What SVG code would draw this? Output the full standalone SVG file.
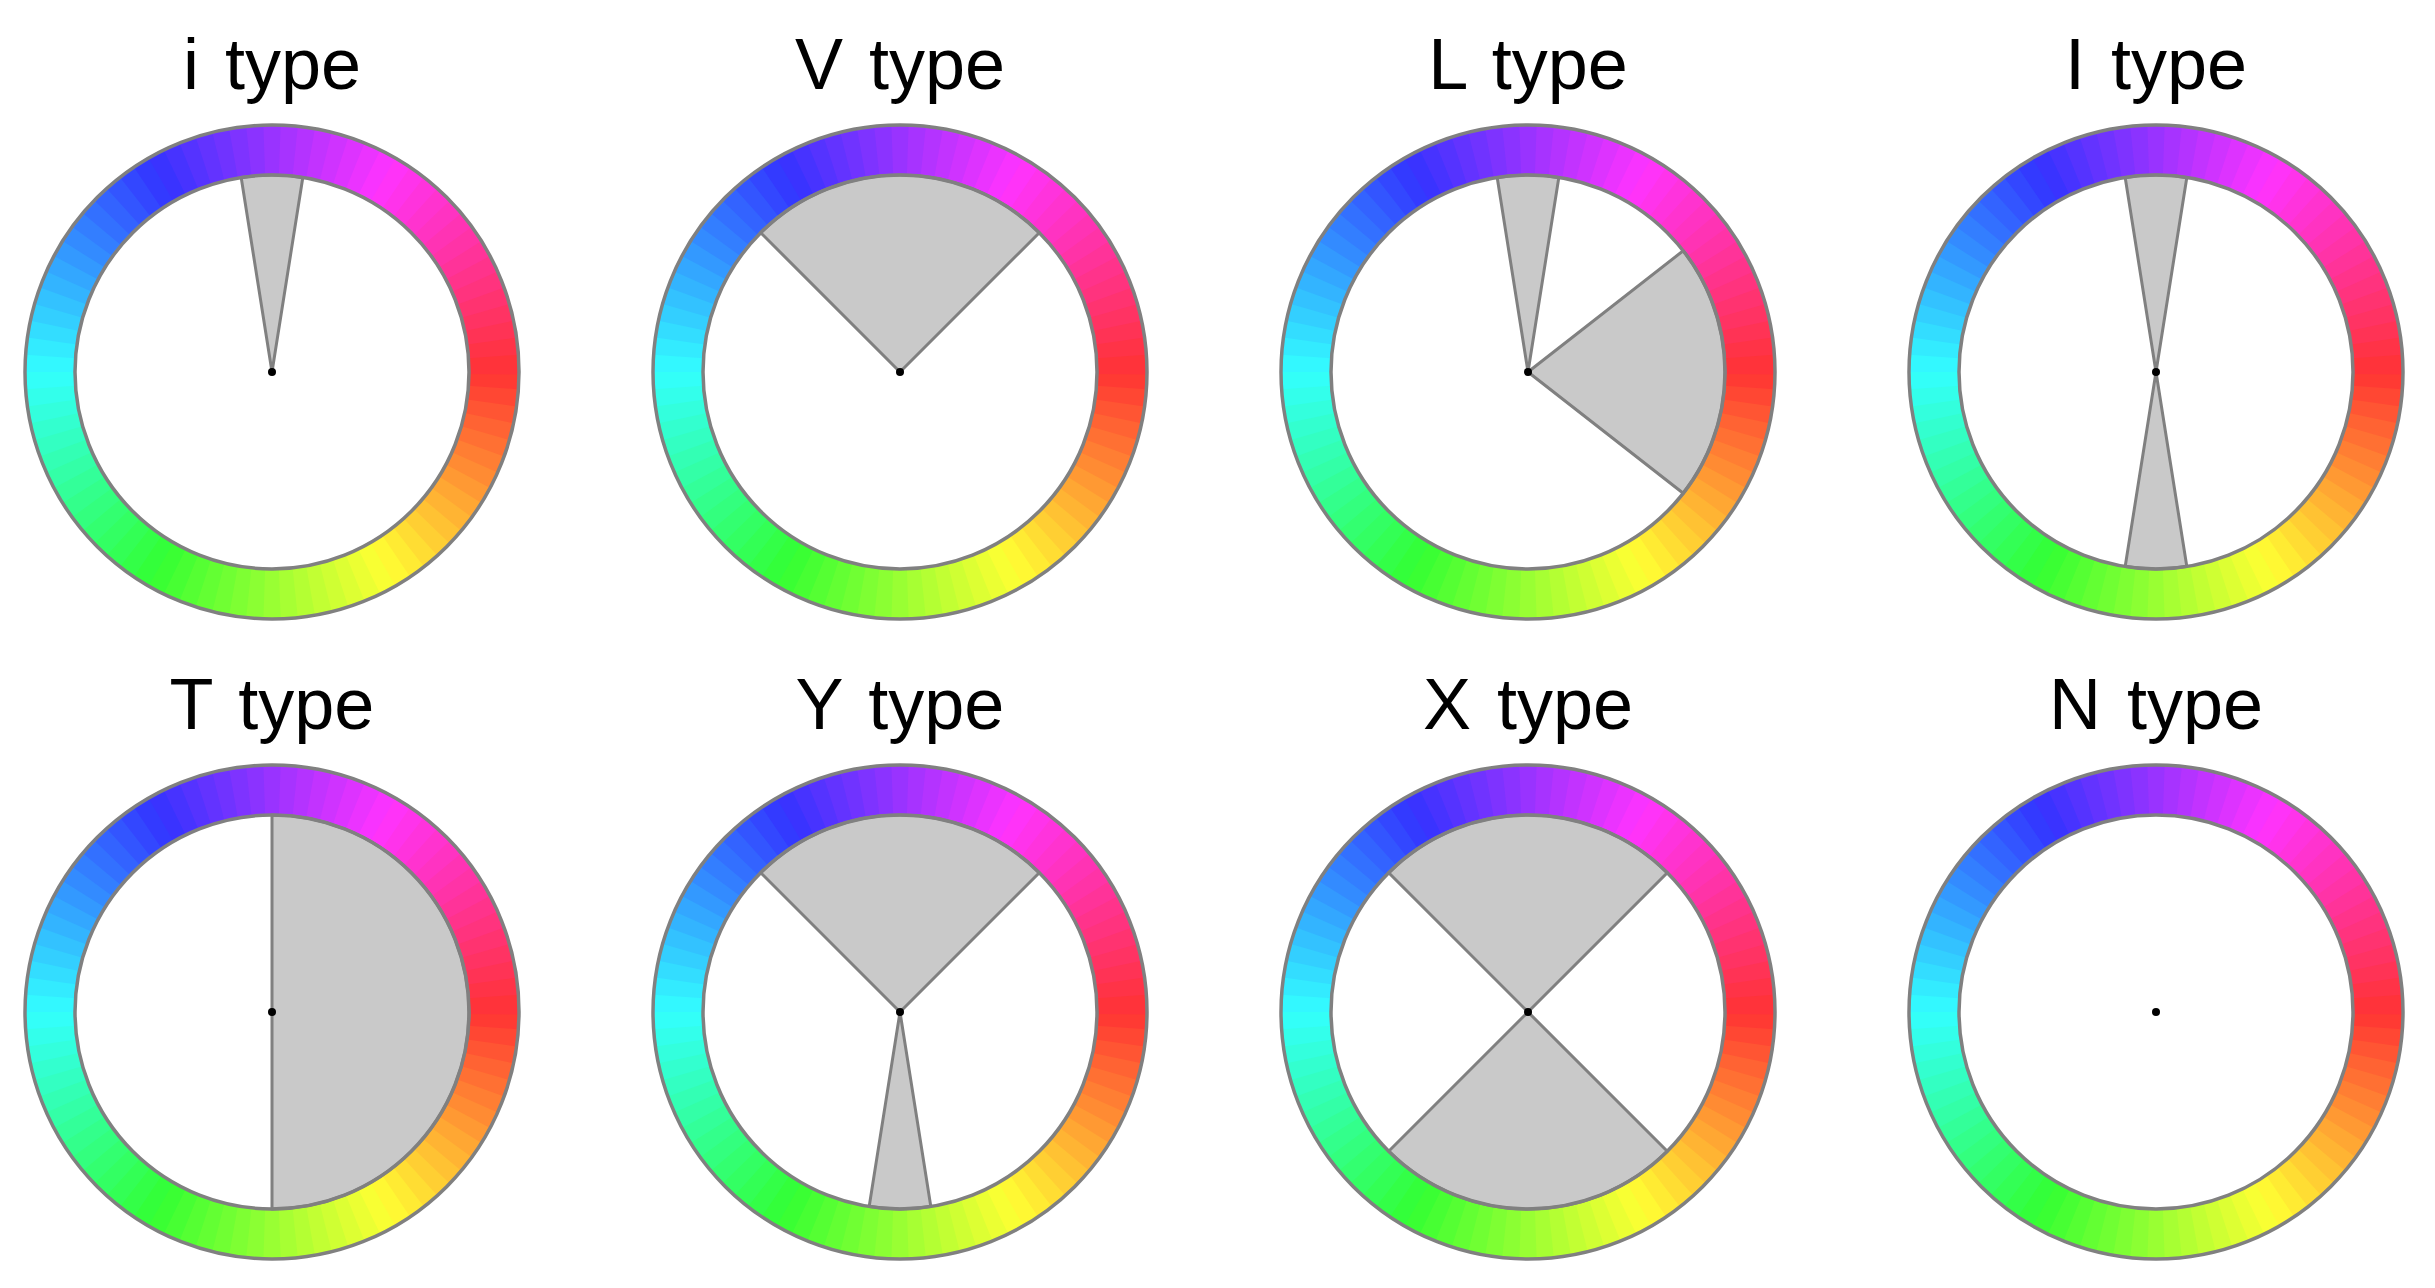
<svg xmlns="http://www.w3.org/2000/svg" xmlns:xlink="http://www.w3.org/1999/xlink" width="2435" height="1288" viewBox="0 0 2435 1288">
<style>
.title{font-family:"Liberation Sans",Arial,sans-serif;font-size:72px;fill:#000;text-anchor:middle;word-spacing:6px}
.sec{fill:#c9c9c9;stroke:#808080;stroke-width:3;stroke-linejoin:round}
.bd{fill:none;stroke:#808080;stroke-width:3.5}
.dot{fill:#000}
</style>
<defs>
<path id="seg" d="M247,0 A247,247 0 0 1 246.204,19.809 L196.365,15.799 A197,197 0 0 0 197,0 Z"/>
<g id="ring">
<use href="#seg" transform="rotate(0)" fill="hsl(2,100%,60%)"/>
<use href="#seg" transform="rotate(4)" fill="hsl(6,100%,60%)"/>
<use href="#seg" transform="rotate(8)" fill="hsl(10,100%,60%)"/>
<use href="#seg" transform="rotate(12)" fill="hsl(14,100%,60%)"/>
<use href="#seg" transform="rotate(16)" fill="hsl(18,100%,60%)"/>
<use href="#seg" transform="rotate(20)" fill="hsl(22,100%,60%)"/>
<use href="#seg" transform="rotate(24)" fill="hsl(26,100%,60%)"/>
<use href="#seg" transform="rotate(28)" fill="hsl(30,100%,60%)"/>
<use href="#seg" transform="rotate(32)" fill="hsl(34,100%,60%)"/>
<use href="#seg" transform="rotate(36)" fill="hsl(38,100%,60%)"/>
<use href="#seg" transform="rotate(40)" fill="hsl(42,100%,60%)"/>
<use href="#seg" transform="rotate(44)" fill="hsl(46,100%,60%)"/>
<use href="#seg" transform="rotate(48)" fill="hsl(50,100%,60%)"/>
<use href="#seg" transform="rotate(52)" fill="hsl(54,100%,60%)"/>
<use href="#seg" transform="rotate(56)" fill="hsl(58,100%,60%)"/>
<use href="#seg" transform="rotate(60)" fill="hsl(62,100%,60%)"/>
<use href="#seg" transform="rotate(64)" fill="hsl(66,100%,60%)"/>
<use href="#seg" transform="rotate(68)" fill="hsl(70,100%,60%)"/>
<use href="#seg" transform="rotate(72)" fill="hsl(74,100%,60%)"/>
<use href="#seg" transform="rotate(76)" fill="hsl(78,100%,60%)"/>
<use href="#seg" transform="rotate(80)" fill="hsl(82,100%,60%)"/>
<use href="#seg" transform="rotate(84)" fill="hsl(86,100%,60%)"/>
<use href="#seg" transform="rotate(88)" fill="hsl(90,100%,60%)"/>
<use href="#seg" transform="rotate(92)" fill="hsl(94,100%,60%)"/>
<use href="#seg" transform="rotate(96)" fill="hsl(98,100%,60%)"/>
<use href="#seg" transform="rotate(100)" fill="hsl(102,100%,60%)"/>
<use href="#seg" transform="rotate(104)" fill="hsl(106,100%,60%)"/>
<use href="#seg" transform="rotate(108)" fill="hsl(110,100%,60%)"/>
<use href="#seg" transform="rotate(112)" fill="hsl(114,100%,60%)"/>
<use href="#seg" transform="rotate(116)" fill="hsl(118,100%,60%)"/>
<use href="#seg" transform="rotate(120)" fill="hsl(122,100%,60%)"/>
<use href="#seg" transform="rotate(124)" fill="hsl(126,100%,60%)"/>
<use href="#seg" transform="rotate(128)" fill="hsl(130,100%,60%)"/>
<use href="#seg" transform="rotate(132)" fill="hsl(134,100%,60%)"/>
<use href="#seg" transform="rotate(136)" fill="hsl(138,100%,60%)"/>
<use href="#seg" transform="rotate(140)" fill="hsl(142,100%,60%)"/>
<use href="#seg" transform="rotate(144)" fill="hsl(146,100%,60%)"/>
<use href="#seg" transform="rotate(148)" fill="hsl(150,100%,60%)"/>
<use href="#seg" transform="rotate(152)" fill="hsl(154,100%,60%)"/>
<use href="#seg" transform="rotate(156)" fill="hsl(158,100%,60%)"/>
<use href="#seg" transform="rotate(160)" fill="hsl(162,100%,60%)"/>
<use href="#seg" transform="rotate(164)" fill="hsl(166,100%,60%)"/>
<use href="#seg" transform="rotate(168)" fill="hsl(170,100%,60%)"/>
<use href="#seg" transform="rotate(172)" fill="hsl(174,100%,60%)"/>
<use href="#seg" transform="rotate(176)" fill="hsl(178,100%,60%)"/>
<use href="#seg" transform="rotate(180)" fill="hsl(182,100%,60%)"/>
<use href="#seg" transform="rotate(184)" fill="hsl(186,100%,60%)"/>
<use href="#seg" transform="rotate(188)" fill="hsl(190,100%,60%)"/>
<use href="#seg" transform="rotate(192)" fill="hsl(194,100%,60%)"/>
<use href="#seg" transform="rotate(196)" fill="hsl(198,100%,60%)"/>
<use href="#seg" transform="rotate(200)" fill="hsl(202,100%,60%)"/>
<use href="#seg" transform="rotate(204)" fill="hsl(206,100%,60%)"/>
<use href="#seg" transform="rotate(208)" fill="hsl(210,100%,60%)"/>
<use href="#seg" transform="rotate(212)" fill="hsl(214,100%,60%)"/>
<use href="#seg" transform="rotate(216)" fill="hsl(218,100%,60%)"/>
<use href="#seg" transform="rotate(220)" fill="hsl(222,100%,60%)"/>
<use href="#seg" transform="rotate(224)" fill="hsl(226,100%,60%)"/>
<use href="#seg" transform="rotate(228)" fill="hsl(230,100%,60%)"/>
<use href="#seg" transform="rotate(232)" fill="hsl(234,100%,60%)"/>
<use href="#seg" transform="rotate(236)" fill="hsl(238,100%,60%)"/>
<use href="#seg" transform="rotate(240)" fill="hsl(242,100%,60%)"/>
<use href="#seg" transform="rotate(244)" fill="hsl(246,100%,60%)"/>
<use href="#seg" transform="rotate(248)" fill="hsl(250,100%,60%)"/>
<use href="#seg" transform="rotate(252)" fill="hsl(254,100%,60%)"/>
<use href="#seg" transform="rotate(256)" fill="hsl(258,100%,60%)"/>
<use href="#seg" transform="rotate(260)" fill="hsl(262,100%,60%)"/>
<use href="#seg" transform="rotate(264)" fill="hsl(266,100%,60%)"/>
<use href="#seg" transform="rotate(268)" fill="hsl(270,100%,60%)"/>
<use href="#seg" transform="rotate(272)" fill="hsl(274,100%,60%)"/>
<use href="#seg" transform="rotate(276)" fill="hsl(278,100%,60%)"/>
<use href="#seg" transform="rotate(280)" fill="hsl(282,100%,60%)"/>
<use href="#seg" transform="rotate(284)" fill="hsl(286,100%,60%)"/>
<use href="#seg" transform="rotate(288)" fill="hsl(290,100%,60%)"/>
<use href="#seg" transform="rotate(292)" fill="hsl(294,100%,60%)"/>
<use href="#seg" transform="rotate(296)" fill="hsl(298,100%,60%)"/>
<use href="#seg" transform="rotate(300)" fill="hsl(302,100%,60%)"/>
<use href="#seg" transform="rotate(304)" fill="hsl(306,100%,60%)"/>
<use href="#seg" transform="rotate(308)" fill="hsl(310,100%,60%)"/>
<use href="#seg" transform="rotate(312)" fill="hsl(314,100%,60%)"/>
<use href="#seg" transform="rotate(316)" fill="hsl(318,100%,60%)"/>
<use href="#seg" transform="rotate(320)" fill="hsl(322,100%,60%)"/>
<use href="#seg" transform="rotate(324)" fill="hsl(326,100%,60%)"/>
<use href="#seg" transform="rotate(328)" fill="hsl(330,100%,60%)"/>
<use href="#seg" transform="rotate(332)" fill="hsl(334,100%,60%)"/>
<use href="#seg" transform="rotate(336)" fill="hsl(338,100%,60%)"/>
<use href="#seg" transform="rotate(340)" fill="hsl(342,100%,60%)"/>
<use href="#seg" transform="rotate(344)" fill="hsl(346,100%,60%)"/>
<use href="#seg" transform="rotate(348)" fill="hsl(350,100%,60%)"/>
<use href="#seg" transform="rotate(352)" fill="hsl(354,100%,60%)"/>
<use href="#seg" transform="rotate(356)" fill="hsl(358,100%,60%)"/>
</g>
<g id="border">
<circle class="bd" r="247"/>
<circle class="bd" r="197"/>
</g>
<path id="wedgeUp" class="sec" d="M0,0 L-30.82,-194.57 A197,197 0 0 1 30.82,-194.57 Z"/>
<path id="wedgeDown" class="sec" d="M0,0 L30.82,194.57 A197,197 0 0 1 -30.82,194.57 Z"/>
<path id="fanUp" class="sec" d="M0,0 L-139.3,-139.3 A197,197 0 0 1 139.3,-139.3 Z"/>
<path id="fanDown" class="sec" d="M0,0 L139.3,139.3 A197,197 0 0 1 -139.3,139.3 Z"/>
</defs>
<rect width="2435" height="1288" fill="#fff"/>

<g id="i-type" transform="translate(272,372)">
<text class="title" x="0" y="-283">i type</text>
<use href="#ring"/>
<use href="#wedgeUp"/>
<use href="#border"/>
<circle class="dot" r="4"/>
</g>

<g id="V-type" transform="translate(900,372)">
<text class="title" x="0" y="-283">V type</text>
<use href="#ring"/>
<use href="#fanUp"/>
<use href="#border"/>
<circle class="dot" r="4"/>
</g>

<g id="L-type" transform="translate(1528,372)">
<text class="title" x="0" y="-283">L type</text>
<use href="#ring"/>
<use href="#wedgeUp"/>
<path class="sec" d="M0,0 L155.24,-121.28 A197,197 0 0 1 155.24,121.28 Z"/>
<use href="#border"/>
<circle class="dot" r="4"/>
</g>

<g id="I-type" transform="translate(2156,372)">
<text class="title" x="0" y="-283">I type</text>
<use href="#ring"/>
<use href="#wedgeUp"/>
<use href="#wedgeDown"/>
<use href="#border"/>
<circle class="dot" r="4"/>
</g>

<g id="T-type" transform="translate(272,1012)">
<text class="title" x="0" y="-283">T type</text>
<use href="#ring"/>
<path class="sec" d="M0,-197 A197,197 0 0 1 0,197 Z"/>
<use href="#border"/>
<circle class="dot" r="4"/>
</g>

<g id="Y-type" transform="translate(900,1012)">
<text class="title" x="0" y="-283">Y type</text>
<use href="#ring"/>
<use href="#fanUp"/>
<use href="#wedgeDown"/>
<use href="#border"/>
<circle class="dot" r="4"/>
</g>

<g id="X-type" transform="translate(1528,1012)">
<text class="title" x="0" y="-283">X type</text>
<use href="#ring"/>
<use href="#fanUp"/>
<use href="#fanDown"/>
<use href="#border"/>
<circle class="dot" r="4"/>
</g>

<g id="N-type" transform="translate(2156,1012)">
<text class="title" x="0" y="-283">N type</text>
<use href="#ring"/>
<use href="#border"/>
<circle class="dot" r="4"/>
</g>
</svg>
